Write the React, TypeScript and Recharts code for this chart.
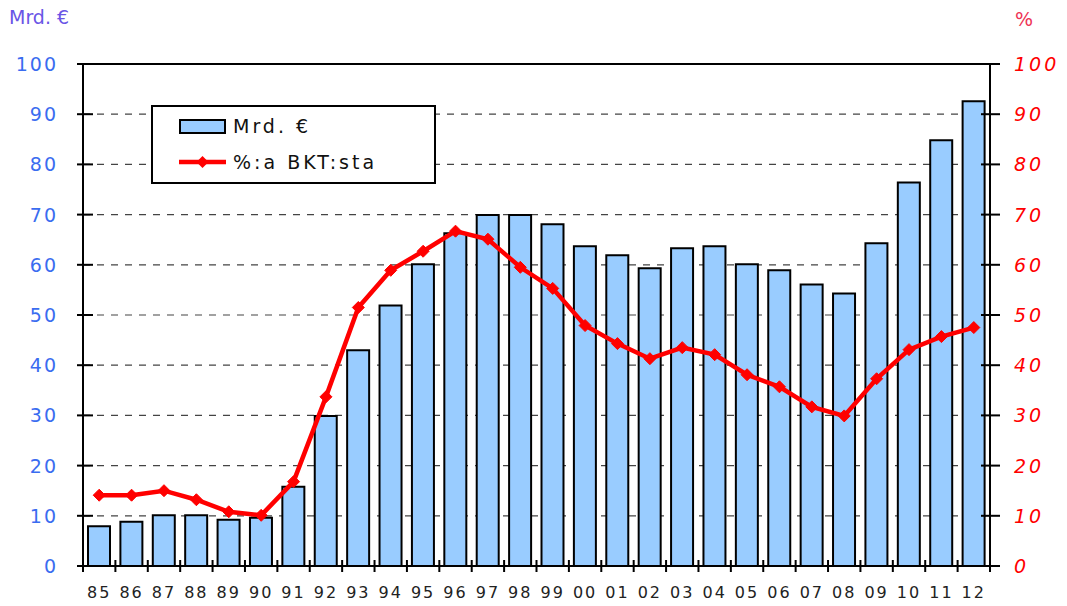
import React from 'react';
import {
  ComposedChart,
  Bar,
  Line,
  XAxis,
  YAxis,
  CartesianGrid,
  ReferenceLine,
  Legend,
} from 'recharts';

const years = ['85', '86', '87', '88', '89', '90', '91', '92', '93', '94', '95', '96', '97', '98', '99', '00', '01', '02', '03', '04', '05', '06', '07', '08', '09', '10', '11', '12'];
const amounts = [7.9, 8.8, 10.1, 10.1, 9.2, 9.6, 15.8, 29.9, 43.0, 51.9, 60.1, 66.3, 69.9, 69.9, 68.1, 63.7, 61.9, 59.3, 63.3, 63.7, 60.1, 58.9, 56.1, 54.3, 64.3, 76.4, 84.8, 92.6];
const shares = [14.1, 14.1, 15.0, 13.2, 10.8, 10.1, 16.8, 33.7, 51.5, 58.9, 62.7, 66.7, 65.1, 59.5, 55.3, 47.9, 44.3, 41.3, 43.5, 42.1, 38.1, 35.7, 31.7, 29.9, 37.3, 43.1, 45.7, 47.5];
const axisTicks = [0, 10, 20, 30, 40, 50, 60, 70, 80, 90, 100];

const barName = 'Mrd. €';
const lineName = '%:a BKT:sta';

const data = years.map((y, i) => ({ year: y, amount: amounts[i], share: shares[i] }));

const FONT = '"DejaVu Sans", Verdana, sans-serif';

const LeftTick = (props: any) => {
  const { x, y, payload } = props;
  const ax = x + 25;
  return (
    <g>
      <line x1={ax - 6} x2={ax + 10} y1={y} y2={y} stroke="#000" strokeWidth={2} />
      <text x={x} y={y} dy={7} textAnchor="end" fill="#3a6cf0" fontSize={19} fontFamily={FONT} letterSpacing={2}>
        {payload.value}
      </text>
    </g>
  );
};

const RightTick = (props: any) => {
  const { x, y, payload } = props;
  const ax = x - 24;
  return (
    <g>
      <line x1={ax - 9} x2={ax + 10} y1={y} y2={y} stroke="#000" strokeWidth={2} />
      <text x={x} y={y} dy={7} textAnchor="start" fill="#ff0000" fontSize={19} fontStyle="italic" fontFamily={FONT} letterSpacing={3}>
        {payload.value}
      </text>
    </g>
  );
};

const BottomTick = (props: any) => {
  const { x, y, payload, index, visibleTicksCount } = props;
  const off = payload && typeof payload.offset === 'number' ? payload.offset : 907 / 28 / 2;
  const last = index === (visibleTicksCount ?? years.length) - 1;
  return (
    <g>
      <line x1={x - off} x2={x - off} y1={y - 6} y2={y + 6} stroke="#000" strokeWidth={2} />
      {last && <line x1={x + off} x2={x + off} y1={y - 6} y2={y + 6} stroke="#000" strokeWidth={2} />}
      <text x={x} y={y} dy={32} textAnchor="middle" fill="#222" fontSize={16} fontFamily={FONT} letterSpacing={2}>
        {payload.value}
      </text>
    </g>
  );
};

const Diamond = (props: any) => {
  const { cx, cy, index } = props;
  if (cx == null || cy == null) return <g key={index} />;
  const r = 6;
  return (
    <path
      key={index}
      d={`M${cx},${cy - r}L${cx + r},${cy}L${cx},${cy + r}L${cx - r},${cy}Z`}
      fill="#ff0000"
      stroke="#ff0000"
    />
  );
};

const LegendBox = () => (
  <div
    style={{
      width: 281,
      height: 75,
      border: '2px solid #000',
      background: '#fff',
      fontFamily: FONT,
      fontSize: 19,
      letterSpacing: 3,
      color: '#111',
      position: 'relative',
    }}
  >
    <svg width={281} height={75} style={{ position: 'absolute', left: 0, top: 0 }}>
      <rect x={27} y={13} width={45} height={13} fill="#99ccff" stroke="#000" strokeWidth={2} />
      <text x={80} y={26} fontSize={19} fontFamily={FONT} letterSpacing={3} fill="#111">{barName}</text>
      <line x1={26} x2={73} y1={55} y2={55} stroke="#ff0000" strokeWidth={4.5} />
      <path d="M49.5,49L55.5,55L49.5,61L43.5,55Z" fill="#ff0000" />
      <text x={80} y={62} fontSize={19} fontFamily={FONT} letterSpacing={3} fill="#111">{lineName}</text>
    </svg>
  </div>
);

export default function App() {
  return (
    <div style={{ position: 'absolute', left: 0, top: 0, width: 1067, height: 606, background: '#fff' }}>
      <ComposedChart
        width={1067}
        height={606}
        data={data}
        margin={{ top: 64, right: 0, bottom: 0, left: 0 }}
        barSize={22}
      >
        <CartesianGrid vertical={false} yAxisId="left" stroke="#444" strokeDasharray="7 7" strokeWidth={1.2} />
        <XAxis
          dataKey="year"
          height={40}
          interval={0}
          axisLine={{ stroke: '#000', strokeWidth: 2 }}
          tickLine={false}
          tickSize={0}
          tickMargin={0}
          tick={<BottomTick />}
        />
        <YAxis
          yAxisId="left"
          orientation="left"
          width={83}
          domain={[0, 100]}
          ticks={axisTicks}
          interval={0}
          axisLine={{ stroke: '#000', strokeWidth: 2 }}
          tickLine={false}
          tickSize={0}
          tickMargin={25}
          tick={<LeftTick />}
          label={{
            content: () => (
              <text x={9} y={24} fill="#6a55e6" fontSize={19} fontFamily={FONT}>
                Mrd. €
              </text>
            ),
          }}
        />
        <YAxis
          yAxisId="right"
          orientation="right"
          width={77}
          domain={[0, 100]}
          ticks={axisTicks}
          interval={0}
          axisLine={{ stroke: '#000', strokeWidth: 2 }}
          tickLine={false}
          tickSize={0}
          tickMargin={24}
          tick={<RightTick />}
          label={{
            content: () => (
              <text x={1015} y={26} fill="#ee3355" fontSize={19} fontFamily={FONT}>
                %
              </text>
            ),
          }}
        />
        <ReferenceLine yAxisId="left" y={100} stroke="#000" strokeWidth={2} />
        <Bar
          yAxisId="left"
          dataKey="amount"
          name={barName}
          fill="#99ccff"
          stroke="#000"
          strokeWidth={2}
          isAnimationActive={false}
        />
        <Line
          yAxisId="right"
          dataKey="share"
          name={lineName}
          type="linear"
          stroke="#ff0000"
          strokeWidth={4.5}
          dot={<Diamond />}
          activeDot={false}
          isAnimationActive={false}
        />
        <Legend
          layout="vertical"
          align="center"
          verticalAlign="middle"
          content={() => <LegendBox />}
          wrapperStyle={{ position: 'absolute', left: 151, top: 105, width: 285, height: 79 }}
        />
      </ComposedChart>
    </div>
  );
}
